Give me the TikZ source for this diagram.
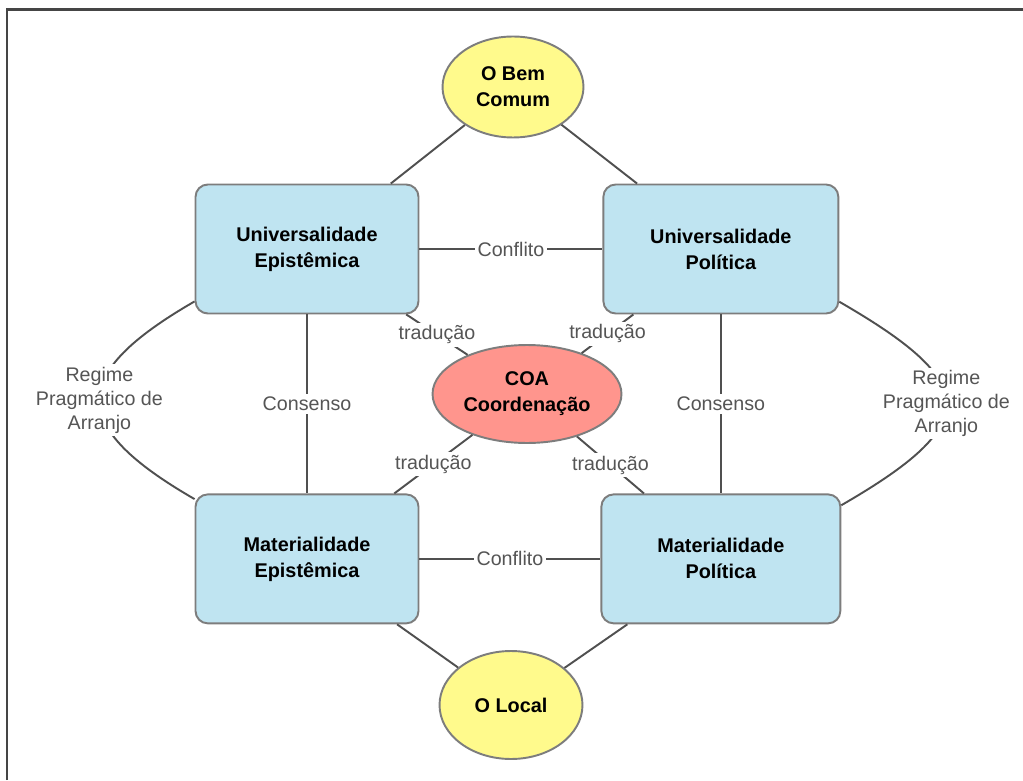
\documentclass[tikz,border=0pt]{standalone}
\usepackage{fontspec}
\setmainfont{Liberation Sans}
\usetikzlibrary{
  calc,
  positioning,
  shapes.geometric
}
\definecolor{rim}{HTML}{454545}
\definecolor{wire}{HTML}{505050}
\definecolor{edge}{HTML}{7D7D7D}
\definecolor{sky}{HTML}{BFE4F1}
\definecolor{sun}{HTML}{FFFA8C}
\definecolor{coral}{HTML}{FF958D}
\definecolor{note}{HTML}{555555}
\tikzset{
  link/.style={
    draw=wire,
    line width=1.1pt
  },
  linklabel/.style={
    fill=white,
    text=note,
    inner sep=1.5pt,
    font=\fontsize{11.2}{13.7}\selectfont,
    align=center
  },
  realm/.style={
    draw=edge,
    fill=sky,
    line width=1.1pt,
    rounded corners=7pt,
    minimum width=4.46cm,
    minimum height=2.58cm,
    font=\fontsize{11.3}{14.8}\selectfont\bfseries,
    align=center
  },
  pole/.style={
    ellipse,
    draw=edge,
    fill=sun,
    line width=1.1pt,
    inner sep=0pt,
    font=\fontsize{11.3}{14.8}\selectfont\bfseries,
    align=center
  },
  hub/.style={
    pole,
    fill=coral,
    minimum width=3.78cm,
    minimum height=1.96cm
  }
}

\begin{document}
\begin{tikzpicture}[x=0.02cm, y=-0.02cm, node distance=3.58cm and 3.66cm]
  \useasboundingbox (0,0) rectangle (1023,780);
  \draw[draw=rim, line width=1.3pt] (7,780) -- (7,9.5) -- (1023,9.5);
  % the four realms
  \node[realm] (unep) at (307,249) {Universalidade\\Epistêmica};
  \node[realm, minimum width=4.7cm, right=of unep] (unpol) {Universalidade\\Política};
  \node[realm, below=of unep] (mep) {Materialidade\\Epistêmica};
  \node[realm, minimum width=4.78cm, below=of unpol] (mpol) {Materialidade\\Política};
  % poles and hub
  \node[pole, minimum width=2.82cm, minimum height=2.02cm] (bem) at (513,87) {O Bem\\Comum};
  \node[pole, minimum width=2.86cm, minimum height=2.16cm] (local) at (511,705) {O Local};
  \node[hub] (coa) at (527,394) {COA\\Coordenação};
  \draw[link] (bem) -- (unep.38);
  \draw[link] (bem) -- (unpol.142);
  \draw[link] (local) -- (mep.-36);
  \draw[link] (local) -- (mpol.-145);
  \draw[link] (unep) -- node[linklabel] {Conflito} (unpol);
  \draw[link] (mep) -- node[linklabel] {Conflito} (mpol);
  \draw[link] (unep) -- node[linklabel] {Consenso} (mep);
  \draw[link] (unpol) -- node[linklabel] {Consenso} (mpol);
  \draw[link] (unep) -- node[linklabel] {tradução} (coa);
  \draw[link] (unpol) -- node[linklabel] {tradução} (coa);
  \draw[link] (mep) -- node[linklabel] {tradução} (coa);
  \draw[link] (mpol) -- node[linklabel] {tradução} (coa);
  \draw[link] (unep.205) to[out=210, in=150, looseness=1.9]
    node[linklabel] {Regime\\Pragmático de\\Arranjo} (mep.152);
  \draw[link] (unpol.-24) to[out=-30, in=30, looseness=2.05]
    node[linklabel] {Regime\\Pragmático de\\Arranjo} (mpol.24);
\end{tikzpicture}
\end{document}
